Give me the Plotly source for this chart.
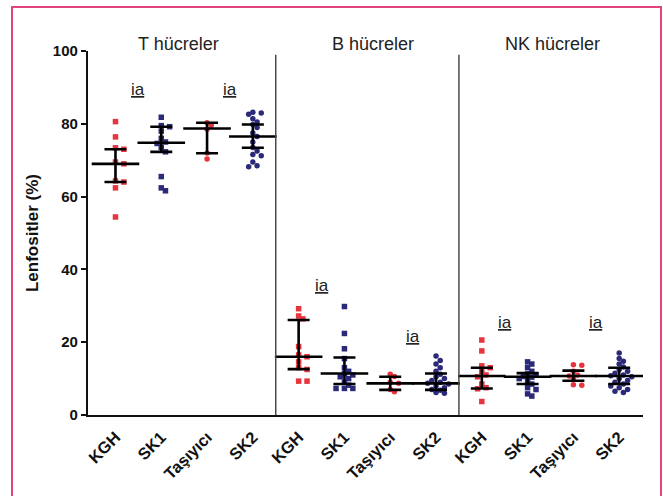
import plotly.graph_objects as go
import numpy as np

groups = ["KGH", "SK1", "Taşıyıcı", "SK2"]
panels = ["T hücreler", "B hücreler", "NK hücreler"]
tick_labels = groups * 3

# individual values (%), panel by panel, group by group
vals = {
    ("T", "KGH"): [80.6, 76.4, 73.4, 73.0, 69.5, 69.0, 64.3, 64.0, 62.4, 54.4],
    ("T", "SK1"): [81.8, 79.5, 79.2, 78.0, 76.0, 75.0, 74.6, 73.5, 72.3, 65.5, 62.4, 61.6],
    ("T", "Taşıyıcı"): [80.3, 79.6, 78.5, 72.0, 70.3],
    ("T", "SK2"): [83.2, 83.0, 82.6, 81.4, 80.5, 79.8, 79.0, 77.5, 76.5, 75.0, 73.5,
                   72.5, 71.6, 71.2, 69.5, 68.5, 68.2],
    ("B", "KGH"): [29.2, 27.2, 26.4, 18.8, 16.5, 16.0, 14.6, 13.0, 12.5, 9.3, 9.3],
    ("B", "SK1"): [29.8, 22.4, 18.2, 15.5, 13.0, 12.0, 11.4, 11.0, 10.5, 10.0, 9.0,
                   8.2, 7.3, 7.3, 7.3],
    ("B", "Taşıyıcı"): [11.2, 10.6, 9.0, 8.7, 7.0, 6.4],
    ("B", "SK2"): [16.2, 15.0, 14.0, 13.0, 12.0, 11.2, 10.5, 10.0, 9.5, 9.0, 8.7,
                   8.5, 8.0, 7.5, 7.0, 6.8, 6.2, 6.0],
    ("NK", "KGH"): [20.6, 17.6, 13.5, 13.0, 12.0, 11.0, 10.5, 8.5, 7.5, 7.2, 3.7],
    ("NK", "SK1"): [14.6, 14.0, 13.0, 12.0, 11.3, 11.0, 10.6, 10.4, 10.0, 9.5, 8.5,
                    7.5, 7.0, 5.8, 5.2],
    ("NK", "Taşıyıcı"): [13.8, 13.7, 12.0, 11.0, 10.7, 10.0, 8.3, 8.2],
    ("NK", "SK2"): [17.0, 15.5, 14.8, 14.0, 13.2, 12.5, 12.0, 11.5, 11.0, 10.8, 10.5,
                    10.0, 9.5, 9.0, 8.5, 8.0, 7.5, 7.0, 6.5, 6.2],
}

# median and interquartile range
medians = [69.0, 74.8, 78.7, 76.5, 16.0, 11.4, 8.7, 8.7, 10.7, 10.5, 10.7, 10.7]
q1 = [64.0, 72.3, 71.9, 73.4, 12.6, 8.5, 6.9, 6.9, 7.3, 8.5, 9.4, 8.5]
q3 = [73.0, 79.2, 80.3, 79.8, 26.1, 15.8, 10.5, 11.4, 13.0, 11.5, 12.2, 13.0]

# "ia" (not significant) labels: x between groups, y value of text centre
ia_x = [0.5, 2.5, 4.5, 6.5, 8.5, 10.5]
ia_y = [89.3, 89.3, 35.7, 21.7, 25.5, 25.5]

# panel title centres (x in category units)
title_x = [1.38, 5.63, 9.55]

RED = "#e6353f"
NAVY = "#2b2a78"
style = {
    "KGH": (RED, "square"),
    "SK1": (NAVY, "square"),
    "Taşıyıcı": (RED, "circle"),
    "SK2": (NAVY, "circle"),
}

XR = (-0.6, 11.52)
px_per_x = 555 / (XR[1] - XR[0])
px_per_y = 364 / 100.0


def swarm(values, diam=4.6, step=4.2):
    """simple beeswarm horizontal offsets (in x data units)"""
    placed = []
    order = np.argsort(values)[::-1]
    res = np.zeros(len(values))
    for idx in order:
        y = values[idx] * px_per_y
        cands = [0]
        for j in range(1, 10):
            cands += [j * step, -j * step]
        for c in cands:
            if all((c - px) ** 2 + (y - py) ** 2 >= diam ** 2 for px, py in placed):
                placed.append((c, y))
                res[idx] = c / px_per_x
                break
    return res


fig = go.Figure()

pi = 0
for p_key in ["T", "B", "NK"]:
    for g in groups:
        v = np.array(vals[(p_key, g)])
        xs = pi + swarm(v)
        col, sym = style[g]
        fig.add_trace(go.Scatter(
            x=xs, y=v, mode="markers",
            marker=dict(color=col, symbol=sym, size=5.5, line=dict(width=0)),
            showlegend=False, hoverinfo="y", cliponaxis=False,
        ))
        pi += 1

xi = list(range(12))
fig.add_trace(go.Scatter(
    x=xi, y=medians, mode="markers",
    marker=dict(symbol="line-ew", size=34, color="black",
                line=dict(width=2.6, color="black")),
    error_y=dict(type="data", symmetric=False,
                 array=[b - m for b, m in zip(q3, medians)],
                 arrayminus=[m - a for a, m in zip(q1, medians)],
                 width=11, thickness=2.6, color="black"),
    showlegend=False, hoverinfo="skip",
))

# panel dividers
for xd in [3.5, 7.5]:
    fig.add_shape(type="line", xref="x", yref="paper", x0=xd, x1=xd, y0=0, y1=0.99,
                  line=dict(color="#4a4a4a", width=1.5))

# panel titles
for tx, name in zip(title_x, panels):
    fig.add_annotation(x=tx, y=(415 - 44) / 364, xref="x", yref="paper",
                       text=name, showarrow=False, yanchor="middle",
                       font=dict(size=18, color="#222", family="Liberation Sans, Arial"))

for xa, ya in zip(ia_x, ia_y):
    fig.add_annotation(x=xa, y=ya, xref="x", yref="y", text="<u>ia</u>",
                       showarrow=False, yanchor="middle",
                       font=dict(size=17, color="#222", family="Liberation Sans, Arial"))

# pink frame
fig.add_shape(type="rect", xref="paper", yref="paper",
              x0=(12 - 88) / 555, x1=(661 - 88) / 555,
              y0=(415 - 505) / 364, y1=(415 - 7) / 364,
              line=dict(color="#e0457f", width=2), fillcolor="rgba(0,0,0,0)")

fig.update_layout(
    width=663, height=496,
    margin=dict(l=88, r=20, t=51, b=81),
    plot_bgcolor="white", paper_bgcolor="white",
    font=dict(family="Liberation Sans, Arial", color="#111"),
)
fig.update_xaxes(
    range=list(XR), tickmode="array", tickvals=xi, ticktext=[f"<b>{t}</b>" for t in tick_labels],
    tickangle=-45, showline=True, linecolor="#111", linewidth=2.2, ticks="",
    showgrid=False, zeroline=False, tickfont=dict(size=16.5), ticklabelstandoff=4,
)
fig.update_yaxes(
    range=[0, 100], tickvals=[0, 20, 40, 60, 80, 100],
    ticktext=["<b>0</b>", "<b>20</b>", "<b>40</b>", "<b>60</b>", "<b>80</b>", "<b>100</b>"],
    showline=True, linecolor="#111", linewidth=2.2, ticks="outside", ticklen=5, tickwidth=2,
    tickcolor="#111", showgrid=False, zeroline=False, tickfont=dict(size=15),
    title=dict(text="<b>Lenfositler (%)</b>", font=dict(size=17), standoff=10),
)

fig.write_html("out.html")
